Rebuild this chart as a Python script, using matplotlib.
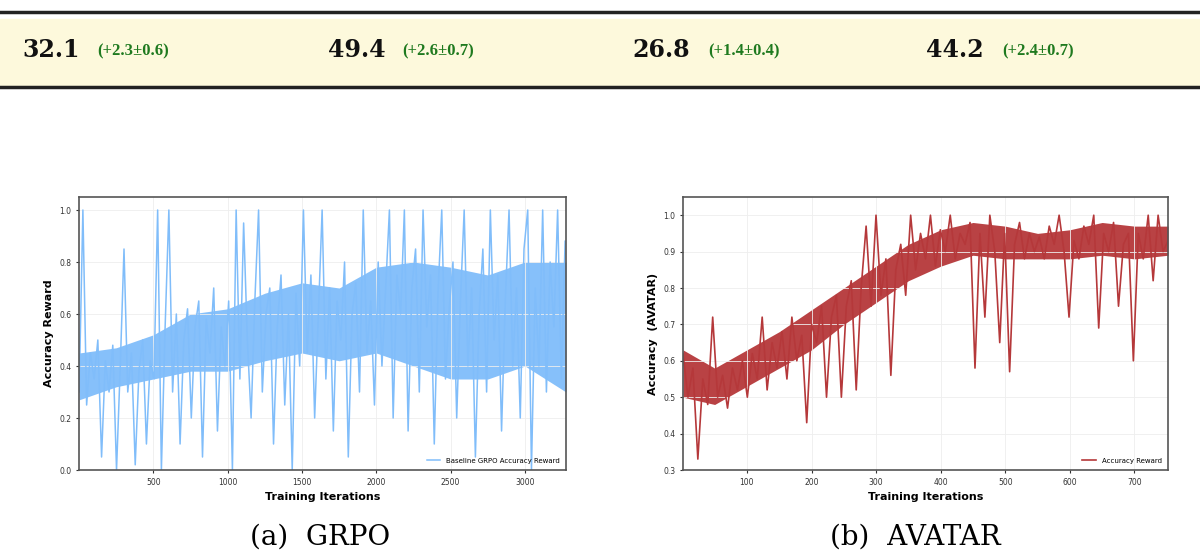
import numpy as np
import matplotlib
matplotlib.use("Agg")
import matplotlib.pyplot as plt
from matplotlib.patches import Rectangle

# ---- data ----
table_main = ["32.1", "49.4", "26.8", "44.2"]
table_delta = ["(+2.3±0.6)", "(+2.6±0.7)", "(+1.4±0.4)", "(+2.4±0.7)"]

grpo_reward = [0.30,1.00,0.25,0.45,0.35,0.50,0.05,0.42,0.30,0.48,0.00,0.40,0.85,0.30,0.45,0.02,0.38,0.50,0.10,0.42,
 0.35,1.00,0.00,0.55,1.00,0.30,0.60,0.10,0.50,0.62,0.20,0.55,0.65,0.05,0.58,0.45,0.70,0.15,0.55,0.40,
 0.65,0.00,1.00,0.35,0.95,0.50,0.20,0.65,1.00,0.30,0.60,0.70,0.10,0.55,0.75,0.25,0.60,0.00,0.68,0.40,
 1.00,0.45,0.75,0.20,0.60,1.00,0.35,0.70,0.15,0.65,0.50,0.80,0.05,0.60,0.72,0.30,1.00,0.45,0.65,0.25,
 0.80,0.40,0.70,1.00,0.20,0.75,0.60,1.00,0.15,0.70,0.85,0.30,1.00,0.55,0.75,0.10,0.68,1.00,0.35,0.62,
 0.80,0.20,0.65,1.00,0.40,0.70,0.05,0.60,0.85,0.30,1.00,0.50,0.75,0.15,0.65,1.00,0.40,0.70,0.20,0.85,
 1.00,0.00,0.70,0.40,1.00,0.30,0.80,0.55,1.00,0.35,0.88]
grpo_iters = np.linspace(1, 3270, len(grpo_reward))
# dense band of the noisy curve
grpo_band_x = [1, 250, 500, 750, 1000, 1250, 1500, 1750, 2000, 2250, 2500, 2750, 3000, 3276]
grpo_band_lo = [0.27, 0.32, 0.35, 0.38, 0.38, 0.42, 0.45, 0.42, 0.45, 0.40, 0.35, 0.35, 0.40, 0.30]
grpo_band_hi = [0.45, 0.47, 0.52, 0.60, 0.62, 0.68, 0.72, 0.70, 0.78, 0.80, 0.78, 0.75, 0.80, 0.80]

avatar_reward = [0.62,0.50,0.58,0.33,0.55,0.48,0.72,0.50,0.56,0.47,0.58,0.52,0.60,0.50,
 0.62,0.55,0.72,0.52,0.65,0.58,0.68,0.55,0.72,0.60,0.67,0.43,0.70,
 0.65,0.75,0.50,0.72,0.78,0.50,0.75,0.82,0.52,0.80,0.97,0.75,1.00,
 0.78,0.88,0.56,0.85,0.92,0.78,1.00,0.85,0.95,0.88,1.00,0.86,0.96,
 0.90,1.00,0.88,0.95,0.92,0.98,0.58,0.95,0.72,1.00,0.90,0.65,0.95,
 0.57,0.92,0.98,0.88,0.95,0.90,0.94,0.88,0.97,0.92,1.00,0.90,0.72,
 0.93,0.88,0.97,0.92,1.00,0.69,0.95,0.90,0.98,0.75,0.92,0.95,0.60,
 0.95,0.88,1.00,0.82,1.00,0.90,0.93]
avatar_iters = np.linspace(1, 752, len(avatar_reward))
avatar_band_x = [1, 50, 100, 150, 200, 250, 300, 350, 400, 450, 500, 550, 600, 650, 700, 752]
avatar_band_lo = [0.50, 0.48, 0.53, 0.58, 0.63, 0.70, 0.76, 0.82, 0.86, 0.89, 0.88, 0.88, 0.88, 0.89, 0.88, 0.89]
avatar_band_hi = [0.63, 0.58, 0.63, 0.68, 0.74, 0.80, 0.86, 0.92, 0.96, 0.98, 0.97, 0.95, 0.96, 0.98, 0.97, 0.97]

fig = plt.figure(figsize=(12, 5.52), dpi=100)

# ---- table strip ----
fig.patches.append(Rectangle((0, 1-85/552), 1, 66/552, transform=fig.transFigure,
                             color="#fdf9dc", zorder=0))
for yy in (12, 87):
    fig.add_artist(plt.Line2D([0, 1], [1-yy/552]*2, color="#222222", lw=2.5,
                              transform=fig.transFigure))
main_x = [22, 328, 632, 926]
delta_x = [97, 402, 708, 1002]
for m, d, mx, dx in zip(table_main, table_delta, main_x, delta_x):
    fig.text(mx/1200, 1-50/552, m, fontsize=17, fontweight="bold",
             family="DejaVu Serif", va="center", color="#111111")
    fig.text(dx/1200, 1-51/552, d, fontsize=12, fontweight="bold",
             family="Liberation Serif", va="center", color="#1f7a1f")

# ---- plots ----
def style(ax):
    ax.grid(True, color="#eeeeee", lw=0.6)
    ax.tick_params(labelsize=5.5, length=2, colors="#333333")
    for s in ax.spines.values():
        s.set_color("#555555"); s.set_linewidth(1.2)
    ax.set_xlabel("Training Iterations", fontsize=8, fontweight="bold")

blue = "#80bdfa"
red = "#b5383a"

ax1 = fig.add_axes([79/1200, 1-470/552, 487/1200, 273/552])
ax1.fill_between(grpo_band_x, grpo_band_lo, grpo_band_hi, color=blue, lw=0, alpha=0.95)
ax1.plot(grpo_iters, grpo_reward, color=blue, lw=1.1, label="Baseline GRPO Accuracy Reward")
ax1.set_xlim(0, 3276); ax1.set_ylim(0, 1.05)
ax1.set_xticks([500, 1000, 1500, 2000, 2500, 3000])
ax1.set_yticks([0, 0.2, 0.4, 0.6, 0.8, 1.0])
ax1.set_ylabel("Accuracy Reward", fontsize=8, fontweight="bold")
style(ax1)
ax1.legend(loc="lower right", fontsize=5, frameon=False)

ax2 = fig.add_axes([683/1200, 1-470/552, 485/1200, 273/552])
ax2.fill_between(avatar_band_x, avatar_band_lo, avatar_band_hi, color=red, lw=0, alpha=0.95)
ax2.plot(avatar_iters, avatar_reward, color=red, lw=1.2, label="Accuracy Reward")
ax2.set_xlim(1, 752); ax2.set_ylim(0.3, 1.05)
ax2.set_xticks([100, 200, 300, 400, 500, 600, 700])
ax2.set_yticks([0.3, 0.4, 0.5, 0.6, 0.7, 0.8, 0.9, 1.0])
ax2.set_ylabel("Accuracy  (AVATAR)", fontsize=8, fontweight="bold")
style(ax2)
ax2.legend(loc="lower right", fontsize=5, frameon=False)

fig.text(320/1200, 0.002, "(a)  GRPO", fontsize=20, family="DejaVu Serif", ha="center", va="bottom")
fig.text(915/1200, 0.002, "(b)  AVATAR", fontsize=20, family="DejaVu Serif", ha="center", va="bottom")

fig.savefig("out.png", dpi=100)
